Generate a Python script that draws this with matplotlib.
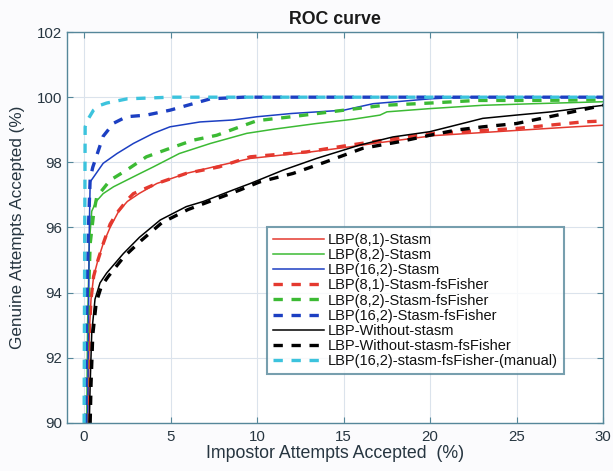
import matplotlib
matplotlib.use("Agg")
import matplotlib.pyplot as plt

plt.rcParams["font.family"] = ["Liberation Sans", "DejaVu Sans"]

x_81 = [0.2, 0.25, 0.3, 0.4, 0.55, 0.8, 1.1, 1.5, 2.0, 2.5, 3.2, 4.2, 5.9, 7.8, 9.6, 12.8, 15, 17.3, 20.2, 22, 25, 28, 30]
y_81 = [90, 91.2, 92.8, 93.8, 94.5, 95.0, 95.5, 96.0, 96.5, 96.8, 97.05, 97.35, 97.66, 97.9, 98.12, 98.3, 98.45, 98.62, 98.82, 98.88, 98.98, 99.08, 99.14]

x_82 = [0.15, 0.2, 0.3, 0.44, 0.7, 1.1, 1.7, 2.45, 3.2, 4.0, 5.5, 7.3, 9.4, 11, 13.4, 15.5, 17.1, 17.5, 20, 23, 26, 30]
y_82 = [90, 93, 95.5, 96.5, 96.8, 97.04, 97.25, 97.45, 97.65, 97.86, 98.27, 98.58, 98.89, 99.02, 99.19, 99.32, 99.45, 99.55, 99.65, 99.75, 99.8, 99.86]

x_162 = [0.2, 0.25, 0.3, 0.35, 0.55, 1.1, 1.9, 2.85, 4.0, 4.96, 6.7, 8.6, 10, 12, 15, 16.7, 20, 22, 30]
y_162 = [90, 93, 96, 97.4, 97.55, 97.97, 98.27, 98.58, 98.89, 99.09, 99.24, 99.3, 99.4, 99.5, 99.6, 99.8, 99.95, 100, 100]

x_81f = [0.2, 0.25, 0.3, 0.4, 0.55, 0.8, 1.1, 1.5, 1.9, 2.5, 2.85, 4.2, 5.9, 7.8, 9.6, 12.85, 15, 17.3, 20.2, 25, 28.8, 30]
y_81f = [90, 91.2, 92.8, 93.8, 94.5, 95.0, 95.5, 96.1, 96.45, 96.85, 97.04, 97.35, 97.66, 97.86, 98.17, 98.32, 98.5, 98.68, 98.89, 99.04, 99.24, 99.27]

x_82f = [0.1, 0.2, 0.35, 0.55, 0.73, 1.5, 2.45, 3.6, 4.96, 6.3, 7.66, 9.0, 10, 12, 15, 17.3, 20, 22.7, 26, 30]
y_82f = [90, 93, 95.5, 96.43, 96.94, 97.45, 97.76, 98.17, 98.43, 98.68, 98.83, 99.09, 99.28, 99.4, 99.6, 99.75, 99.82, 99.9, 99.9, 99.92]

x_162f = [0.1, 0.15, 0.25, 0.35, 0.5, 0.64, 1.1, 1.7, 2.45, 3.6, 4.96, 6.3, 7.3, 9.2, 30]
y_162f = [90, 93, 96, 97.5, 97.85, 98.07, 98.8, 99.2, 99.4, 99.45, 99.6, 99.8, 99.95, 100, 100]

x_wo = [0.3, 0.35, 0.44, 0.63, 0.92, 1.3, 2.27, 3.2, 4.4, 5.9, 6.9, 8.6, 9.6, 11.5, 13.43, 15.93, 17.85, 19.97, 21.1, 23.04, 24.97, 27, 30]
y_wo = [90, 91.2, 92.76, 93.8, 94.3, 94.6, 95.2, 95.7, 96.23, 96.64, 96.8, 97.15, 97.35, 97.76, 98.12, 98.53, 98.78, 98.94, 99.09, 99.35, 99.45, 99.55, 99.75]

x_wof = [0.35, 0.4, 0.5, 0.7, 1.0, 1.4, 2.3, 3.3, 4.5, 6.0, 7.5, 9.0, 10.15, 12.08, 14.0, 16.1, 18.2, 19.97, 21.5, 23.04, 24.97, 26.9, 30]
y_wof = [90, 91.2, 92.7, 93.7, 94.2, 94.5, 95.1, 95.6, 96.15, 96.55, 96.85, 97.15, 97.4, 97.66, 98.02, 98.43, 98.63, 98.83, 98.99, 99.09, 99.19, 99.4, 99.75]

x_man = [0, 0.03, 0.06, 0.2, 0.54, 0.92, 1.3, 2.5, 5, 30]
y_man = [90, 95, 99.09, 99.3, 99.6, 99.75, 99.82, 99.95, 100, 100]

labels = ["LBP(8,1)-Stasm", "LBP(8,2)-Stasm", "LBP(16,2)-Stasm",
          "LBP(8,1)-Stasm-fsFisher", "LBP(8,2)-Stasm-fsFisher", "LBP(16,2)-Stasm-fsFisher",
          "LBP-Without-stasm", "LBP-Without-stasm-fsFisher", "LBP(16,2)-stasm-fsFisher-(manual)"]

RED = "#e4392f"
GREEN = "#3cba34"
BLUE = "#1c3fc2"
CYAN = "#3cc3dd"
EDGE = "#55879a"
TXT = "#263540"

fig = plt.figure(figsize=(6.13, 4.71), dpi=100)
fig.patch.set_facecolor("#fbfbfd")
ax = fig.add_axes([0.109, 0.102, 0.875, 0.830])

solid = dict(linestyle="-", linewidth=1.1)
dash = dict(linestyle=(0, (2.8, 2.6)), linewidth=2.4)

ax.plot(x_81, y_81, color=RED, label=labels[0], **solid)
ax.plot(x_82, y_82, color=GREEN, label=labels[1], **solid)
ax.plot(x_162, y_162, color=BLUE, label=labels[2], **solid)
ax.plot(x_81f, y_81f, color=RED, label=labels[3], **dash)
ax.plot(x_82f, y_82f, color=GREEN, label=labels[4], **dash)
ax.plot(x_162f, y_162f, color=BLUE, label=labels[5], **dash)
ax.plot(x_wo, y_wo, color="black", label=labels[6], **solid)
ax.plot(x_wof, y_wof, color="black", label=labels[7], **dash)
ax.plot(x_man, y_man, color=CYAN, label=labels[8], **dash)

ax.set_xlim(-1, 30)
ax.set_ylim(90, 102)
ax.set_xticks(range(0, 31, 5))
ax.set_yticks(range(90, 103, 2))
ax.grid(True, color="#dbe3ec", linewidth=0.8)
ax.set_axisbelow(True)
for s in ax.spines.values():
    s.set_color(EDGE)
    s.set_linewidth(1.0)
ax.tick_params(direction="in", top=True, right=True, colors=EDGE,
               labelcolor=TXT, labelsize=10.8, length=4)
ax.tick_params(axis="x", pad=5)

ax.set_title("ROC curve", fontsize=12.8, fontweight="bold", color="#1a1a1a", pad=6)
ax.set_xlabel("Impostor Attempts Accepted  (%)", fontsize=12.8, color=TXT, labelpad=1)
ax.set_ylabel("Genuine Attempts Accepted (%)", fontsize=12.3, color=TXT, labelpad=8)

leg = ax.legend(loc="upper left", bbox_to_anchor=(0.373, 0.501), borderaxespad=0,
                fontsize=10.5, handlelength=3.5, handletextpad=0.3, labelspacing=0.08,
                frameon=True, fancybox=False, borderpad=0.4)
leg.get_frame().set_edgecolor(EDGE)
leg.get_frame().set_linewidth(1.5)
for t in leg.get_texts():
    t.set_color("#111111")

fig.savefig("out.png", dpi=100, facecolor=fig.get_facecolor())
